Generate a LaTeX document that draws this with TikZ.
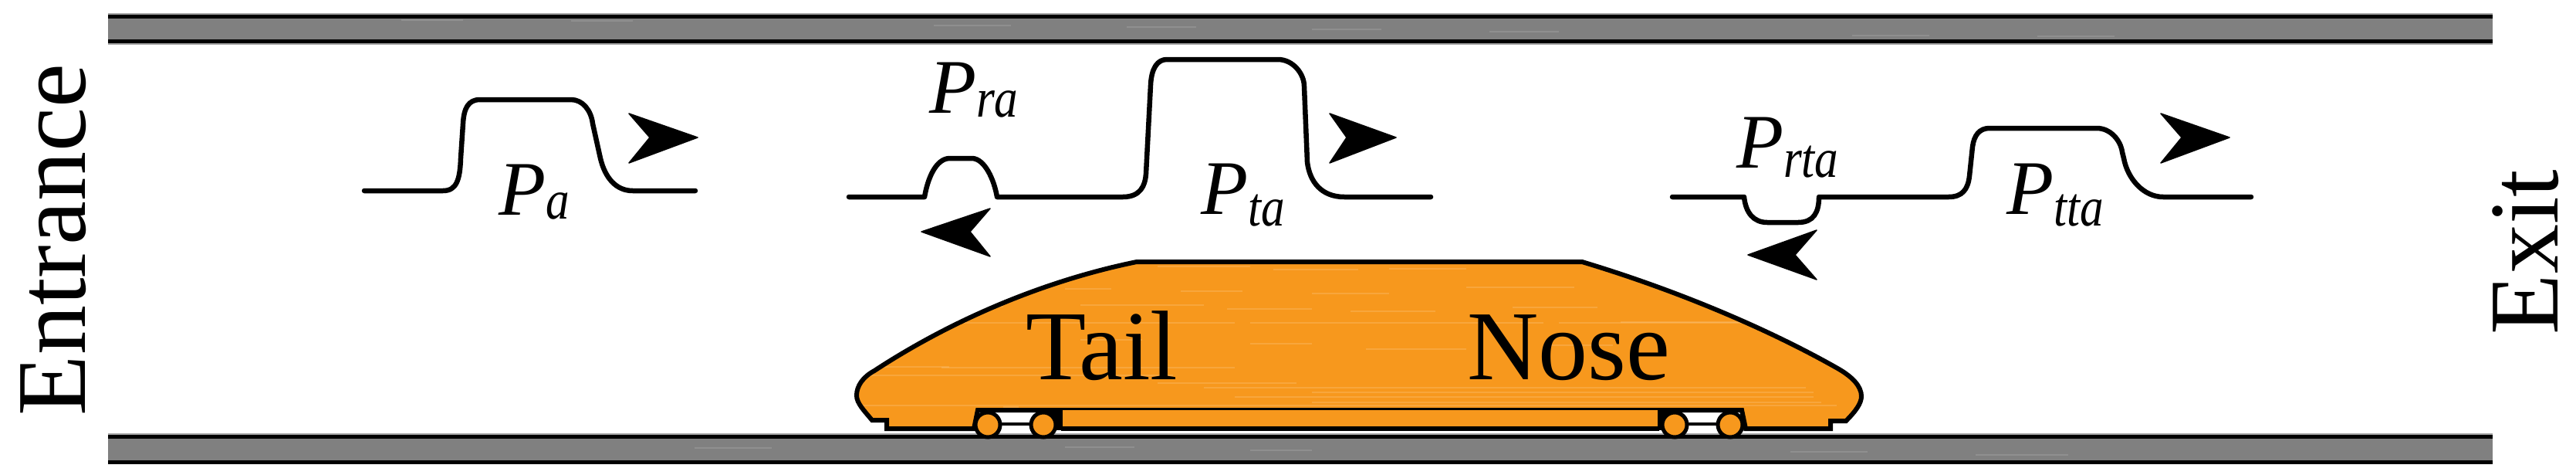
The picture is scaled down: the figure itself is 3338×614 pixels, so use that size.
\documentclass[tikz,border=0pt]{standalone}
\usepackage{graphicx}
\usepackage{fontspec}
\setmainfont{Liberation Serif}
\definecolor{trainorange}{HTML}{F7981D}
\definecolor{railgray}{HTML}{808080}
\newcommand{\BigText}{\fontsize{128}{128}\selectfont}
\newcommand{\PLabel}[2]{{\fontsize{100}{100}\selectfont\itshape P}\raisebox{-#1pt}{\scalebox{0.85}[1]{\fontsize{72}{72}\selectfont\itshape #2}}}
\newcommand{\TrainPath}{(1473,339) -- (2050,339)
  .. controls (2170,375) and (2290,425) .. (2383,478)
  .. controls (2400,488) and (2412,500) .. (2412,513)
  .. controls (2412,522) and (2405,532) .. (2392,545)
  -- (2372,545) -- (2372,555) -- (2262,555) -- (2257,531)
  -- (1267,531) -- (1262,555) -- (1149,555) -- (1149,544) -- (1130,544)
  .. controls (1120,532) and (1110,522) .. (1110,512)
  .. controls (1110,500) and (1118,488) .. (1133,480)
  .. controls (1240,410) and (1360,362) .. (1473,339) -- cycle}
\tikzset{
  every node/.style={inner sep=0pt,outer sep=0pt},
  railbody/.style={fill=railgray,draw=none},
  railhalo/.style={draw=black!35,line width=9pt},
  railedge/.style={draw=black,line width=5pt},
  pulse/.style={draw=black,line width=6.5pt,line cap=round,line join=round},
  headfill/.style={fill=black,draw=black,line width=1.5pt,line join=round},
  bigtext/.style={font=\BigText,text=black},
  wheelshape/.style={circle,fill=trainorange,draw=black,line width=5pt,minimum size=32pt},
  streak/.style={draw=white,opacity=0.14,line width=2.5pt},
  railstreak/.style={draw=white,opacity=0.12,line width=2.5pt},
}
\begin{document}
\begin{tikzpicture}[x=1pt,y=-1pt]
\useasboundingbox (0,0) rectangle (3338,614);
% rails
\draw[railhalo] (140,21) -- (3230,21);
\draw[railhalo] (140,53.5) -- (3230,53.5);
\draw[railhalo] (140,565) -- (3230,565);
\fill[railbody] (140,21) rectangle (3230,53);
\fill[railbody] (140,565) rectangle (3230,598);
\foreach \a/\b/\c in {520/600/26,740/820/27,1210/1310/33,1460/1550/35,1700/1790/38,1930/2020/41,2400/2500/46,2640/2740/47}
  \draw[railstreak] (\a,\c) -- (\b,\c);
\foreach \a/\b/\c in {900/1000/580,1380/1470/579,1620/1700/583,2320/2420/585,2560/2680/589}
  \draw[railstreak] (\a,\c) -- (\b,\c);
\draw[railedge] (140,21.5) -- (3230,21.5);
\draw[railedge] (140,53) -- (3230,53);
\draw[railedge] (140,565) -- (3230,565);
\draw[railedge] (140,598) -- (3230,598);
% pulses
\draw[pulse] (472,247) -- (574,247) .. controls (592,247) and (596,232) .. (597,205) -- (600,160)
  .. controls (601,140) and (607,129) .. (622,129) -- (740,129)
  .. controls (755,129) and (766,143) .. (768,160) -- (778,205)
  .. controls (784,230) and (798,247) .. (820,247) -- (901,247);
\draw[pulse] (1100,255) -- (1198,255) .. controls (1202,232) and (1212,206) .. (1230,205) -- (1260,205)
  .. controls (1276,206) and (1288,232) .. (1292,255) -- (1455,255)
  .. controls (1478,255) and (1484,240) .. (1485,225) -- (1491,110)
  .. controls (1492,88) and (1500,77) .. (1512,77) -- (1656,77)
  .. controls (1675,77) and (1690,95) .. (1690,112) -- (1694,210)
  .. controls (1697,235) and (1712,255) .. (1742,255) -- (1854,255);
\draw[pulse] (2167,255) -- (2260,255) .. controls (2262,275) and (2272,288) .. (2290,288) -- (2330,288)
  .. controls (2350,288) and (2357,275) .. (2357,255) -- (2525,255)
  .. controls (2543,255) and (2550,245) .. (2552,228) -- (2556,190)
  .. controls (2558,175) and (2565,166) .. (2578,166) -- (2717,166)
  .. controls (2735,166) and (2748,182) .. (2750,197) -- (2752,205)
  .. controls (2757,232) and (2778,255) .. (2803,255) -- (2917,255);
% arrowheads
\filldraw[headfill] (904,178) -- (815,147) -- (842,178) -- (815,211) -- cycle;
\filldraw[headfill] (1809,178) -- (1723,147) -- (1745,178) -- (1723,211) -- cycle;
\filldraw[headfill] (2889,178) -- (2800,147) -- (2827,178) -- (2800,211) -- cycle;
\filldraw[headfill] (1194,300) -- (1283,270) -- (1257,300) -- (1283,332) -- cycle;
\filldraw[headfill] (2265,330) -- (2354,298) -- (2326,330) -- (2354,362) -- cycle;
% labels
\node[anchor=base west] (lblPa) at (646,278) {\PLabel{5}{a}};
\node[anchor=base west] (lblPra) at (1204,146) {\PLabel{5}{ra}};
\node[anchor=base west] (lblPta) at (1556,277) {\PLabel{15}{ta}};
\node[anchor=base west] (lblPrta) at (2250,217) {\PLabel{12}{rta}};
\node[anchor=base west] (lblPtta) at (2600,277) {\PLabel{15}{tta}};
% train
\fill[trainorange] \TrainPath;
\begin{scope}
  \clip \TrainPath;
  \foreach \a/\b/\c in {1500/1620/345,1650/1760/349,1800/1900/348,1380/1440/374,1530/1610/377,1700/1800/380,1900/2040/372,1240/1300/397,1400/1560/395,1590/1700/400,1750/1860/403,1960/2070/398,2100/2260/417,1180/1600/418,1620/2000/418,2020/2300/418,1400/1480/440,1620/1700/445,1770/1900/452,2000/2090/447,1100/1230/475,1220/1600/476,1100/1520/486,1500/1680/496,1560/2340/502,1700/2350/508,1600/2350/514,1700/2360/521,1110/2380/525,1300/1320/527}
    \draw[streak] (\a,\c) -- (\b,\c);
\end{scope}
\draw[draw=black,line width=6pt,line join=miter] \TrainPath;
\fill[trainorange] (1375,531) rectangle (2150,555);
\draw[draw=black,line width=6pt] (1375,555) -- (2150,555);
% bogies
\fill[black] (1352,530) rectangle (1377,557);
\fill[black] (2148,530) rectangle (2170,557);
\draw[draw=black,line width=4pt] (1280,549) -- (1352,549);
\draw[draw=black,line width=4pt] (2170,549) -- (2242,549);
\node[wheelshape] (wheelA) at (1280,550) {};
\node[wheelshape] (wheelB) at (1352,550) {};
\node[wheelshape] (wheelC) at (2170,550) {};
\node[wheelshape] (wheelD) at (2242,550) {};
% big text
\node[bigtext,anchor=base west] (tail) at (1329,491) {Tail};
\node[bigtext,anchor=base west] (nose) at (1901,491) {Nose};
\node[bigtext,anchor=base west,rotate=90] (entrance) at (110,538) {Entrance};
\node[bigtext,anchor=base west,rotate=90,text depth=0pt] (exit) at (3314,433) {Exit};
\end{tikzpicture}
\end{document}
